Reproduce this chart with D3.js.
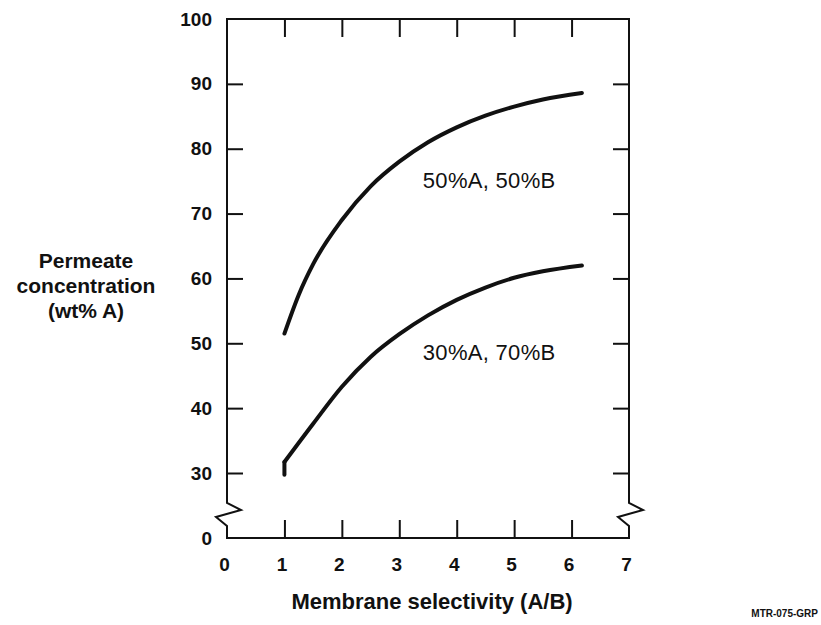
<!DOCTYPE html>
<html>
<head>
<meta charset="utf-8">
<script src="https://cdn.jsdelivr.net/npm/d3@7"></script>
<style>
  html, body { margin: 0; padding: 0; background: #fff; }
  svg { display: block; font-family: "Liberation Sans", Arial, Helvetica, sans-serif; }
</style>
</head>
<body>
<svg id="chart" width="821" height="625"></svg>
<script>
// ---- data ----
const xTickValues = [0, 1, 2, 3, 4, 5, 6, 7];
const xInnerTicks = [1, 2, 3, 4, 5, 6];
const yTickValues = [0, 30, 40, 50, 60, 70, 80, 90, 100];
const yInnerTicks = [30, 40, 50, 60, 70, 80, 90];

// feed 50%A, 50%B
const selectivity50 = [1.0, 1.25, 1.5, 2.0, 2.5, 3.0, 3.5, 4.0, 4.5, 5.0, 5.5, 6.18];
const permeate50    = [51.5, 57.5, 62.2, 69.0, 74.2, 78.0, 81.0, 83.3, 85.1, 86.5, 87.6, 88.6];

// feed 30%A, 70%B (first point is the short vertical stem at selectivity 1)
const selectivity30 = [1.0, 1.0, 1.5, 2.0, 2.5, 3.0, 3.5, 4.0, 4.5, 5.0, 5.5, 6.18];
const permeate30    = [29.2, 31.7, 37.6, 43.3, 47.9, 51.4, 54.3, 56.7, 58.6, 60.1, 61.1, 62.0];

const seriesLabels = ["50%A, 50%B", "30%A, 70%B"];
const labelPos = [[3.41, 73.9], [3.41, 47.4]];

const xTitle = "Membrane selectivity (A/B)";
const yTitleLines = ["Permeate", "concentration", "(wt% A)"];
const figCode = "MTR-075-GRP";

// ---- layout ----
const L = 227, R = 629, T = 19, B = 538;
const svg = d3.select("#chart");
svg.append("rect").attr("width", 821).attr("height", 625).attr("fill", "#fff");

const x = d3.scaleLinear().domain([0, 7]).range([L, R]);
// broken axis: 0 at bottom, 30..100 linear
const y = d3.scaleLinear().domain([0, 30, 100]).range([B, 473, T]);

const ink = "#111";

// frame with zigzag breaks
const zz = X => [[X, T], [X, 503], [X + 14, 510], [X - 11, 517], [X, 526], [X, B]];
const lineGen = d3.line();
[zz(L), zz(R), [[L, T], [R, T]], [[L, B], [R, B]]].forEach(p => {
  svg.append("path")
    .attr("d", lineGen(p))
    .attr("fill", "none").attr("stroke", ink).attr("stroke-width", 2)
    .attr("stroke-linejoin", "miter").attr("stroke-linecap", "square");
});

// inner ticks
function styleTicks(g) {
  g.select(".domain").remove();
  g.selectAll(".tick line").attr("stroke", ink).attr("stroke-width", 2);
  g.selectAll(".tick text").remove();
}
svg.append("g").attr("transform", `translate(0,${B})`)
  .call(d3.axisBottom(x).tickValues(xInnerTicks).tickSizeInner(-18).tickSizeOuter(0))
  .call(styleTicks);
svg.append("g").attr("transform", `translate(0,${T})`)
  .call(d3.axisTop(x).tickValues(xInnerTicks).tickSizeInner(-18).tickSizeOuter(0))
  .call(styleTicks);
svg.append("g").attr("transform", `translate(${L},0)`)
  .call(d3.axisLeft(y).tickValues(yInnerTicks).tickSizeInner(-16).tickSizeOuter(0))
  .call(styleTicks);
svg.append("g").attr("transform", `translate(${R},0)`)
  .call(d3.axisRight(y).tickValues(yInnerTicks).tickSizeInner(-16).tickSizeOuter(0))
  .call(styleTicks);

// tick labels
function styleLabels(g) {
  g.select(".domain").remove();
  g.selectAll(".tick line").remove();
  g.selectAll(".tick text")
    .attr("fill", ink)
    .attr("font-size", 19)
    .attr("font-weight", "bold")
    .attr("font-family", "\"Liberation Sans\", Arial, sans-serif");
}
svg.append("g").attr("transform", `translate(-3,${B})`)
  .call(d3.axisBottom(x).tickValues(xTickValues).tickSize(0).tickPadding(20).tickFormat(d3.format("d")))
  .call(styleLabels);
svg.append("g").attr("transform", `translate(${L},0)`)
  .call(d3.axisLeft(y).tickValues(yTickValues).tickSize(0).tickPadding(15).tickFormat(d3.format("d")))
  .call(styleLabels);

// curves
const smooth = d3.line()
  .x(d => x(d[0])).y(d => y(d[1]))
  .curve(d3.curveMonotoneX);
const straight = d3.line().x(d => x(d[0])).y(d => y(d[1]));
const s50 = selectivity50.map((v, i) => [v, permeate50[i]]);
const s30 = selectivity30.map((v, i) => [v, permeate30[i]]);

function drawPath(d) {
  svg.append("path").attr("d", d)
    .attr("fill", "none").attr("stroke", ink)
    .attr("stroke-width", 4).attr("stroke-linecap", "round").attr("stroke-linejoin", "round");
}
drawPath(smooth(s50));
drawPath(straight(s30.slice(0, 2)));   // vertical stem
drawPath(smooth(s30.slice(1)));

// series labels
seriesLabels.forEach((t, i) => {
  svg.append("text")
    .attr("x", x(labelPos[i][0])).attr("y", y(labelPos[i][1]))
    .attr("font-size", 22).attr("fill", ink)
    .attr("letter-spacing", 0.3)
    .text(t);
});

// axis titles
svg.append("text")
  .attr("x", (L + R) / 2 + 4).attr("y", 609)
  .attr("text-anchor", "middle")
  .attr("font-size", 22).attr("font-weight", "bold").attr("fill", ink)
  .text(xTitle);

yTitleLines.forEach((t, i) => {
  svg.append("text")
    .attr("x", 86).attr("y", 268 + i * 25)
    .attr("text-anchor", "middle")
    .attr("font-size", 21).attr("font-weight", "bold").attr("fill", ink)
    .text(t);
});

svg.append("text")
  .attr("x", 818).attr("y", 617)
  .attr("text-anchor", "end")
  .attr("font-size", 10).attr("font-weight", "bold").attr("fill", ink)
  .text(figCode);
</script>
</body>
</html>
